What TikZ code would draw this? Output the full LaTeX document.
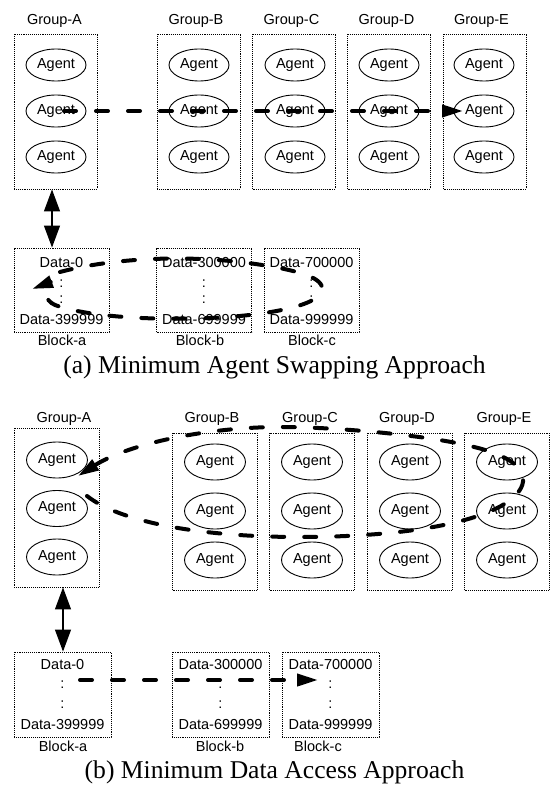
\documentclass[tikz,border=0pt]{standalone}
\usepackage{fontspec}
\setmainfont{Liberation Serif}
\setsansfont{Liberation Sans}
\usetikzlibrary{arrows.meta,shapes.geometric}
\begin{document}
\begin{tikzpicture}[x=1pt,y=-1pt,
  lbl/.style={font=\sffamily\fontsize{14.5}{16}\selectfont, inner sep=0pt, anchor=base},
  grp/.style={draw, densely dotted, line width=0.9pt, minimum width=83pt, minimum height=155pt, inner sep=0pt},
  grpb/.style={grp, minimum width=85pt, minimum height=157pt},
  blk/.style={draw, densely dotted, line width=0.9pt, minimum width=95pt, minimum height=84pt, inner sep=0pt},
  blkb/.style={blk, minimum width=97pt, minimum height=85pt},
  agent/.style={ellipse, draw, line width=0.9pt, minimum width=60pt, minimum height=32pt, inner sep=0pt, font=\sffamily\fontsize{14.5}{16}\selectfont},
  agentb/.style={agent, minimum width=61pt, minimum height=36pt},
  flow/.style={line width=4pt, line cap=round, dash pattern=on 12pt off 20pt, -{Triangle[length=21pt,width=12pt]}},
  dbl/.style={line width=1.2pt, {Triangle[length=22pt,width=16pt]}-{Triangle[length=22pt,width=16pt]}},
  capt/.style={font=\fontsize{25.6}{30}\selectfont, inner sep=0pt, anchor=base}
]
\fill[white] (0,0) rectangle (551,786);
\useasboundingbox (0,0) rectangle (551,786);

% ===================== (a) =====================
\node[grp] (gA) at (55.5,111.5) {};
\node[grp] (gB) at (198.5,111.5) {};
\node[grp] (gC) at (294,111.5) {};
\node[grp] (gD) at (389,111.5) {};
\node[grp] (gE) at (485,111.5) {};
\node[lbl] (tA) at (54.5,25) {Group-A};
\node[lbl] (tB) at (196,25) {Group-B};
\node[lbl] (tC) at (291.5,25) {Group-C};
\node[lbl] (tD) at (386.5,25) {Group-D};
\node[lbl] (tE) at (481.5,25) {Group-E};
\foreach \g/\x in {A/56,B/199,C/295,D/389,E/484}{
  \node[agent] (a\g1) at (\x,65) {Agent};
  \node[agent] (a\g2) at (\x,111) {Agent};
  \node[agent] (a\g3) at (\x,157) {Agent};
}

\node[blk] (bA) at (61.5,290) {};
\node[blk] (bB) at (204,290) {};
\node[blk] (bC) at (311.5,290) {};
\foreach \b/\x/\lo/\hi/\bl in {A/61.5/0/399999/a,B/204/300000/699999/b,C/311.5/700000/999999/c}{
  \node[lbl] (d\b0) at (\x,267) {Data-\lo};
  \node[lbl] (c\b1) at (\x,287) {:};
  \node[lbl] (c\b2) at (\x,303) {:};
  \node[lbl] (d\b1) at (\x,324) {Data-\hi};
}
\node[lbl] (kA) at (62,345.5) {Block-a};
\node[lbl] (kB) at (200,345.5) {Block-b};
\node[lbl] (kC) at (312,345.5) {Block-c};

\draw[dbl] ([xshift=-3.5pt]gA.south) -- ([xshift=-9.5pt]bA.north);

\draw[flow] ([xshift=8pt]aA2.center) -- ([xshift=-21pt]aE2.center);

\coordinate (la0) at (60,272);
\coordinate (la1) at (262,265);
\coordinate (la2) at (322,290);
\coordinate (la3) at (240,316);
\coordinate (la4) at (55,305);
\coordinate (la5) at (32,289);
\draw[flow] (la0) .. controls (120,256) and (200,255) .. (la1)
  .. controls (300,271) and (324,278) .. (la2)
  .. controls (320,302) and (290,311) .. (la3)
  .. controls (170,322) and (90,318) .. (la4)
  .. controls (45,301) and (40,286) .. (la5);

\node[capt] (capA) at (274.5,373.5) {(a) Minimum Agent Swapping Approach};

% ===================== (b) =====================
\node[grpb, minimum height=159pt] (hA) at (56.5,507.5) {};
\node[grpb] (hB) at (215,511.5) {};
\node[grpb] (hC) at (312,511.5) {};
\node[grpb] (hD) at (409.5,511.5) {};
\node[grpb] (hE) at (507,511.5) {};
\node[lbl] (uA) at (64,422) {Group-A};
\node[lbl] (uB) at (212,422) {Group-B};
\node[lbl] (uC) at (310,422) {Group-C};
\node[lbl] (uD) at (407,422) {Group-D};
\node[lbl] (uE) at (504,422) {Group-E};
\node[agentb] (eA1) at (57,460) {Agent};
\node[agentb] (eA2) at (57,508.5) {Agent};
\node[agentb] (eA3) at (57,557) {Agent};
\foreach \g/\x in {B/215,C/312,D/410,E/507}{
  \node[agentb] (e\g1) at (\x,462) {Agent};
  \node[agentb] (e\g2) at (\x,511) {Agent};
  \node[agentb] (e\g3) at (\x,560) {Agent};
}

\node[blkb] (mA) at (62.5,694.5) {};
\node[blkb] (mB) at (220.5,694.5) {};
\node[blkb] (mC) at (330.5,694.5) {};
\foreach \b/\x/\lo/\hi in {A/62.5/0/399999,B/220.5/300000/699999,C/330.5/700000/999999}{
  \node[lbl] (f\b0) at (\x,669) {Data-\lo};
  \node[lbl] (g\b1) at (\x,688) {:};
  \node[lbl] (g\b2) at (\x,708) {:};
  \node[lbl] (f\b1) at (\x,729) {Data-\hi};
}
\node[lbl] (nA) at (63,751) {Block-a};
\node[lbl] (nB) at (220,751) {Block-b};
\node[lbl] (nC) at (318,751) {Block-c};

\draw[dbl] ([xshift=6.5pt]hA.south) -- ([xshift=0.5pt]mA.north);

\coordinate (lbs) at (80,680);
\coordinate (lbe) at (318,680);
\draw[flow] (lbs) -- (lbe);

\coordinate (lb0) at (87,496);
\coordinate (lb1) at (300,537);
\coordinate (lb2) at (521,488);
\coordinate (lb3) at (470,446);
\coordinate (lb4) at (280,427);
\coordinate (lb5) at (78,476);
\draw[flow] (lb0) .. controls (120,522) and (200,537) .. (lb1)
  .. controls (420,537) and (505,518) .. (lb2)
  .. controls (530,470) and (510,455) .. (lb3)
  .. controls (430,436) and (340,427) .. (lb4)
  .. controls (210,427) and (130,443) .. (lb5);

\node[capt] (capB) at (274.5,778) {(b) Minimum Data Access Approach};
\end{tikzpicture}
\end{document}
